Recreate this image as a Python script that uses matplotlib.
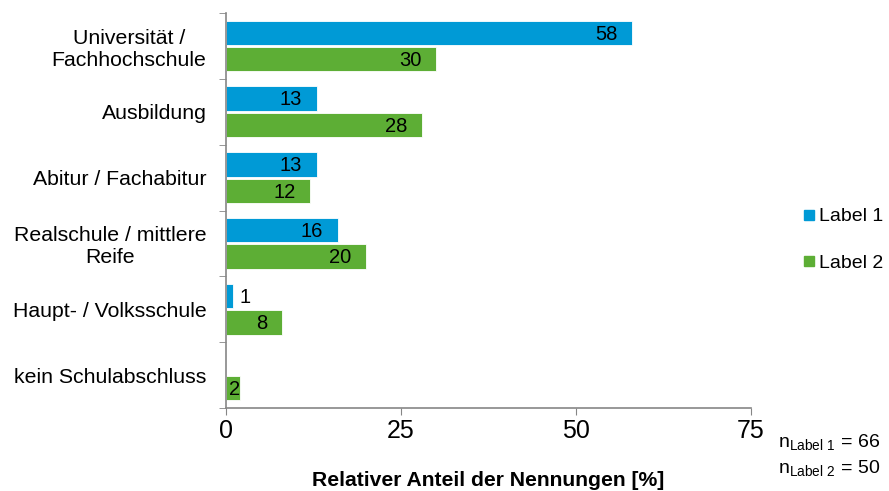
import matplotlib
matplotlib.use('Agg')
import matplotlib.pyplot as plt
from matplotlib.lines import Line2D
import numpy as np

plt.rcParams['font.family'] = ['Liberation Sans', 'DejaVu Sans']
plt.rcParams['mathtext.fontset'] = 'custom'
plt.rcParams['mathtext.rm'] = 'Liberation Sans'

categories = ['Universität /\nFachhochschule', 'Ausbildung', 'Abitur / Fachabitur',
              'Realschule / mittlere\nReife', 'Haupt- / Volksschule', 'kein Schulabschluss']
label1 = [58, 13, 13, 16, 1, 0]
label2 = [30, 28, 12, 20, 8, 2]
series_names = ['Label 1', 'Label 2']
n_values = [66, 50]

blue = '#009AD6'
green = '#5DAE35'
grey = '#868686'

fig = plt.figure(figsize=(8.89, 4.91), dpi=100)
ax = fig.add_axes([226/889, 1-408/491, (751-226)/889, (408-13)/491])

y = np.arange(len(categories))
h = 0.37
off = 0.2
b1 = ax.barh(y - off, label1, height=h, color=blue, edgecolor='white', linewidth=0.6)
b2 = ax.barh(y + off, label2, height=h, color=green, edgecolor='white', linewidth=0.6)

# value labels, inside end of bar, outside if the bar is too short
for bars, vals in [(b1, label1), (b2, label2)]:
    for bar, v in zip(bars, vals):
        if v == 0:
            continue
        yc = bar.get_y() + bar.get_height()/2 + 0.02
        if v < 2:
            ax.text(v + 0.9, yc, str(v), ha='left', va='center', fontsize=14.5)
        elif v < 5:
            ax.text(0.5, yc, str(v), ha='left', va='center', fontsize=14.5)
        else:
            ax.text(v - 2.1, yc, str(v), ha='right', va='center', fontsize=14.5)

ax.set_xlim(0, 75)
ax.set_ylim(len(categories) - 0.5, -0.5)
ax.set_xticks([0, 25, 50, 75])
ax.tick_params(axis='x', labelsize=18, length=5, color=grey, pad=3)
ax.set_yticks(y)
ax.set_yticklabels(categories, fontsize=15.3, multialignment='center')
ax.tick_params(axis='y', which='major', length=0, pad=14)
ax.set_yticks(np.arange(len(categories) + 1) - 0.5, minor=True)
ax.tick_params(axis='y', which='minor', length=5, color=grey)

for s in ['top', 'right']:
    ax.spines[s].set_visible(False)
for s in ['left', 'bottom']:
    ax.spines[s].set_color(grey)
    ax.spines[s].set_linewidth(1.2)

ax.set_xlabel('Relativer Anteil der Nennungen [%]', fontsize=15.2, fontweight='bold', labelpad=20)

handles = [Line2D([], [], marker='s', linestyle='none', color=blue, markersize=7.5),
           Line2D([], [], marker='s', linestyle='none', color=green, markersize=7.5)]
fig.legend(handles, series_names, loc='center left', bbox_to_anchor=(784/889, 1-240/491),
           frameon=False, fontsize=14, labelspacing=1.5, handletextpad=0.1, handlelength=0.8)

fig.text(880/889, 1-448/491, r'n$_{\mathrm{Label\ 1}}$ = %d' % n_values[0], ha='right',
         va='baseline', fontsize=14)
fig.text(880/889, 1-474/491, r'n$_{\mathrm{Label\ 2}}$ = %d' % n_values[1], ha='right',
         va='baseline', fontsize=14)

fig.savefig('out.png', dpi=100)
